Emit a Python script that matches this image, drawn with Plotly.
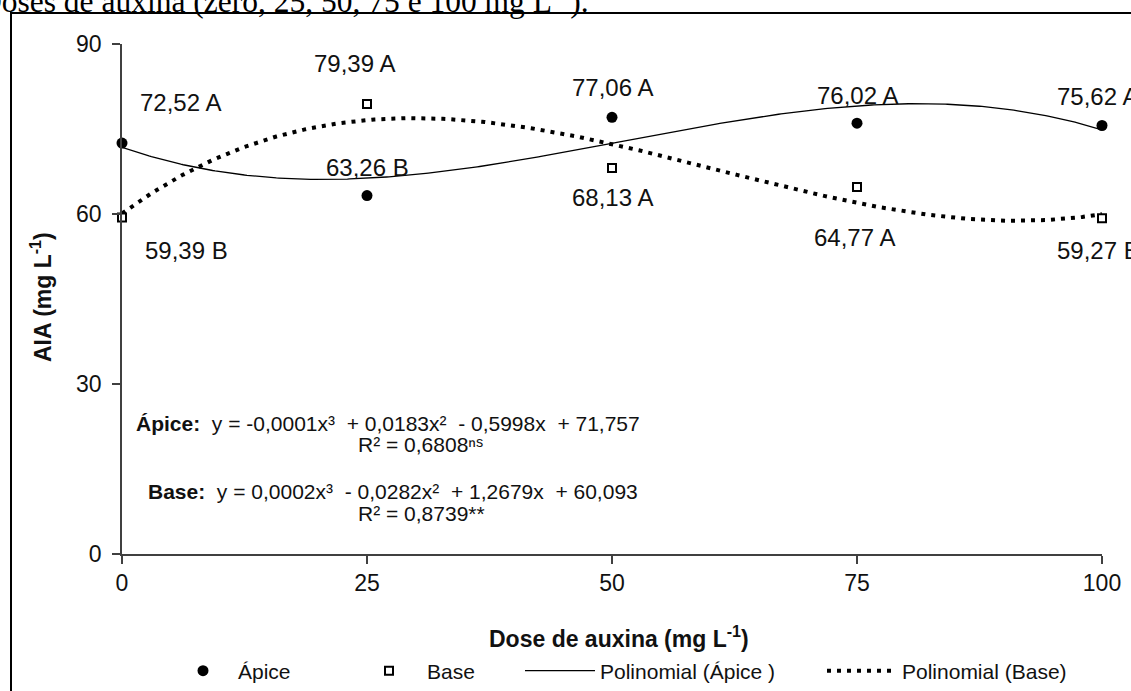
import numpy as np
import plotly.graph_objects as go

# ---- data ----
doses = [0, 25, 50, 75, 100]
apice = [72.52, 63.26, 77.06, 76.02, 75.62]
base = [59.39, 79.39, 68.13, 64.77, 59.27]
apice_letters = ["A", "B", "A", "A", "A"]
base_letters = ["B", "A", "A", "A", "B"]
x_ticks = [0, 25, 50, 75, 100]
y_ticks = [0, 30, 60, 90]

# label offsets (px) relative to each point
apice_shift = [(58, -41), (0, -28), (0, -30), (0, -28), (-5, -29)]
base_shift = [(64, 33), (-13, -41), (0, 30), (-3, 51), (-4, 32)]

W, H = 1131, 691
L, R, T, B = 122, 29, 44, 137
PW, PH = W - L - R, H - T - B

def px2paper_x(px):
    return (px - L) / PW

def px2paper_y(py):
    return (H - B - py) / PH

FONT = "Liberation Sans, Arial, sans-serif"

# cubic trend lines fitted to the data
xs = np.linspace(0, 100, 401)
ca = np.polyfit(doses, apice, 3)
cb = np.polyfit(doses, base, 3)

fig = go.Figure()
fig.add_trace(go.Scatter(
    x=xs, y=np.polyval(ca, xs), mode="lines", name="Polinomial (Ápice )",
    line=dict(color="black", width=1.3), cliponaxis=False, legend="legend3", showlegend=True))
fig.add_trace(go.Scatter(
    x=xs, y=np.polyval(cb, xs), mode="lines", name="Polinomial (Base)",
    line=dict(color="black", width=4, dash="4px,6px"), cliponaxis=False, legend="legend4",
    showlegend=True))
fig.add_trace(go.Scatter(
    x=doses, y=apice, mode="markers", name="Ápice",
    marker=dict(symbol="circle", size=11, color="black"),
    cliponaxis=False, legend="legend", showlegend=True))
fig.add_trace(go.Scatter(
    x=doses, y=base, mode="markers", name="Base",
    marker=dict(symbol="square", size=8, color="white", line=dict(color="black", width=2)),
    cliponaxis=False, legend="legend2", showlegend=True))

def fmt(v):
    return f"{v:.2f}".replace(".", ",")

lab_font = dict(family=FONT, size=24, color="#111")
ann = []
for xv, yv, let, (dx, dy) in zip(doses, apice, apice_letters, apice_shift):
    ann.append(dict(x=xv, y=yv, xref="x", yref="y", text=f"{fmt(yv)} {let}",
                    showarrow=False, xshift=dx, yshift=-dy, font=lab_font))
for xv, yv, let, (dx, dy) in zip(doses, base, base_letters, base_shift):
    ann.append(dict(x=xv, y=yv, xref="x", yref="y", text=f"{fmt(yv)} {let}",
                    showarrow=False, xshift=dx, yshift=-dy, font=lab_font))

eq_font = dict(family=FONT, size=21, color="#111")
ann += [
    dict(x=px2paper_x(134), y=px2paper_y(423), xref="paper", yref="paper", showarrow=False,
         text="<b>Ápice:</b>  y = -0,0001x³  + 0,0183x²  - 0,5998x  + 71,757", font=eq_font,
         xanchor="left", yanchor="middle"),
    dict(x=px2paper_x(356), y=px2paper_y(444), xref="paper", yref="paper", showarrow=False,
         text="R² = 0,6808ⁿˢ", font=eq_font, xanchor="left", yanchor="middle"),
    dict(x=px2paper_x(146), y=px2paper_y(491), xref="paper", yref="paper", showarrow=False,
         text="<b>Base:</b>  y = 0,0002x³  - 0,0282x²  + 1,2679x  + 60,093", font=eq_font,
         xanchor="left", yanchor="middle"),
    dict(x=px2paper_x(356), y=px2paper_y(513), xref="paper", yref="paper", showarrow=False,
         text="R² = 0,8739**", font=eq_font, xanchor="left", yanchor="middle"),
    # axis titles
    dict(x=px2paper_x(619), y=px2paper_y(637), xref="paper", yref="paper", showarrow=False,
         text="<b>Dose de auxina (mg L<sup>-1</sup>)</b>",
         font=dict(family=FONT, size=23, color="#111"), xanchor="center", yanchor="middle"),
    dict(x=px2paper_x(41), y=px2paper_y(297), xref="paper", yref="paper", showarrow=False,
         text="<b>AIA (mg L<sup>-1</sup>)</b>", textangle=-90,
         font=dict(family=FONT, size=23, color="#111"), xanchor="center", yanchor="middle"),
    # clipped caption above the figure
    dict(x=px2paper_x(-23), y=px2paper_y(-1), xref="paper", yref="paper", showarrow=False,
         text="Doses de auxina (zero, 25, 50, 75 e 100 mg L<sup>-1</sup>).",
         font=dict(family="Liberation Serif, Times New Roman, serif", size=31.5, color="black"),
         xanchor="left", yanchor="middle"),
]

axis_common = dict(showgrid=False, zeroline=False, showline=True, linecolor="#404040",
                   linewidth=1.5, ticks="outside", ticklen=8, tickcolor="#404040",
                   tickwidth=1.5, tickfont=dict(family=FONT, size=23, color="#111"))

leg_common = dict(orientation="h", bgcolor="rgba(0,0,0,0)", borderwidth=0,
                  font=dict(family=FONT, size=21, color="#111"),
                  xanchor="left", yanchor="middle", y=px2paper_y(671))

fig.update_layout(
    width=W, height=H,
    margin=dict(l=L, r=R, t=T, b=B, autoexpand=False),
    paper_bgcolor="white", plot_bgcolor="white",
    showlegend=True,
    xaxis=dict(range=[0, 100], tickvals=x_ticks, ticklabelstandoff=0, **axis_common),
    yaxis=dict(range=[0, 90], tickvals=y_ticks, ticklabelstandoff=6, **axis_common),
    annotations=ann,
    legend=dict(x=px2paper_x(168), itemwidth=60, **leg_common),
    legend2=dict(x=px2paper_x(351), itemwidth=66, **leg_common),
    legend3=dict(x=px2paper_x(520), itemwidth=70, **leg_common),
    legend4=dict(x=px2paper_x(822), itemwidth=70, **leg_common),
    shapes=[dict(type="rect", xref="paper", yref="paper",
                 x0=px2paper_x(11), x1=px2paper_x(1160),
                 y0=px2paper_y(720), y1=px2paper_y(13),
                 line=dict(color="black", width=2), fillcolor="rgba(0,0,0,0)", layer="below")],
)

fig.write_html("out.html", config={"displayModeBar": False},
               post_script="document.body.style.margin='0';document.body.style.overflow='hidden';")
